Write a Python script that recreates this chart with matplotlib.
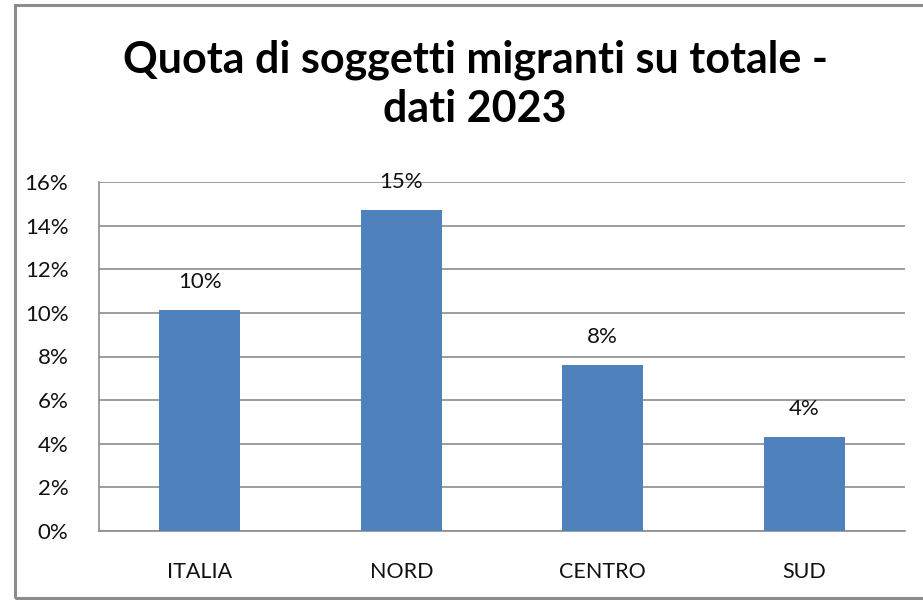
import numpy as np
import matplotlib.pyplot as plt
from matplotlib.patches import Rectangle
from matplotlib.ticker import FuncFormatter

# dati
categorie = ['ITALIA', 'NORD', 'CENTRO', 'SUD']
quote = [0.1013, 0.1472, 0.0761, 0.0431]
etichette = ['10%', '15%', '8%', '4%']

plt.rcParams['font.family'] = ['Lato', 'DejaVu Sans']

fig = plt.figure(figsize=(9.23, 6), dpi=100)
ax = fig.add_axes([99 / 923, 69 / 600, 806 / 923, 349 / 600])

# cornice esterna
fig.patches.append(Rectangle((15 / 923, 2 / 600), 920 / 923, 593 / 600,
                             transform=fig.transFigure, fill=False,
                             edgecolor='#8c8c8c', linewidth=2.2))

x = np.arange(len(categorie))
ax.bar(x, quote, width=0.4, color='#4F81BD', zorder=3)

for xi, v, lab in zip(x, quote, etichette):
    ax.annotate(lab, (xi, v), xytext=(0, 20), textcoords='offset points',
                ha='center', va='center', fontsize=16, color='#111111')

ax.set_xlim(-0.5, len(categorie) - 0.5)
ax.set_ylim(0, 0.16)
ax.set_yticks(np.arange(0, 0.161, 0.02))
ax.yaxis.set_major_formatter(FuncFormatter(lambda v, p: f'{v * 100:.0f}%'))
ax.set_xticks(x)
ax.set_xticklabels(categorie)
ax.tick_params(axis='y', labelsize=16, length=0, pad=22, colors='#111111')
ax.tick_params(axis='x', labelsize=15.5, length=0, pad=22, colors='#111111')
ax.grid(axis='y', color='#8c8c8c', linewidth=1.2, zorder=0)
for s in ['top', 'right']:
    ax.spines[s].set_visible(False)
ax.spines['left'].set_color('#8c8c8c')
ax.spines['bottom'].set_color('#8c8c8c')
ax.spines['left'].set_linewidth(1.2)
ax.spines['bottom'].set_linewidth(1.2)

# titolo su due righe
fig.text(475 / 923, 1 - 73 / 600, 'Quota di soggetti migranti su totale -',
         ha='center', va='baseline', fontsize=31, fontweight='bold')
fig.text(475 / 923, 1 - 122 / 600, 'dati 2023',
         ha='center', va='baseline', fontsize=31, fontweight='bold')

fig.savefig('out.png', dpi=100)
